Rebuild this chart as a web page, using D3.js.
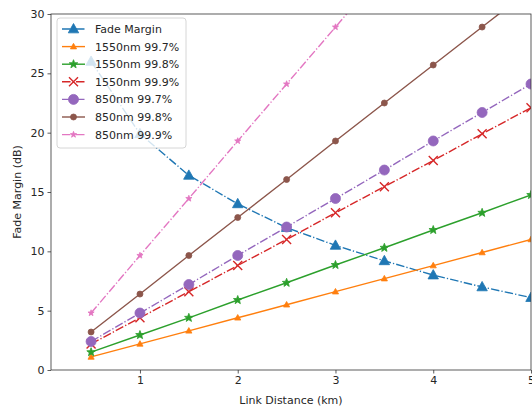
<!DOCTYPE html>
<html>
<head>
<meta charset="utf-8">
<style>
  body { margin: 0; background: #fff; }
  text { font-family: "DejaVu Sans", sans-serif; fill: #262626; }
</style>
</head>
<body>
<svg width="532" height="408"></svg>
<script src="https://d3js.org/d3.v7.min.js"></script>
<script>

// link distance in km
var distances = [0.5, 1, 1.5, 2, 2.5, 3, 3.5, 4, 4.5, 5]

// values (dB)
var fadeMargin = [26.0, 19.9, 16.4, 14.0, 12.0, 10.5, 9.2, 8.0, 7.0, 6.1]
var nm1550_997 = [1.1, 2.2, 3.3, 4.4, 5.5, 6.6, 7.7, 8.8, 9.9, 11.0]
var nm1550_998 = [1.5, 2.95, 4.4, 5.9, 7.35, 8.85, 10.3, 11.8, 13.25, 14.75]
var nm1550_999 = [2.2, 4.4, 6.6, 8.8, 11.0, 13.25, 15.45, 17.65, 19.9, 22.1]
var nm850_997 = [2.4, 4.8, 7.2, 9.65, 12.05, 14.45, 16.85, 19.3, 21.7, 24.1]
var nm850_998 = [3.2, 6.4, 9.65, 12.85, 16.05, 19.3, 22.5, 25.7, 28.9, 32.1]
var nm850_999 = [4.8, 9.65, 14.45, 19.3, 24.1, 28.9, 33.75, 38.6, 43.4, 48.2]

var xTicks = [1, 2, 3, 4, 5]
var yTicks = [0, 5, 10, 15, 20, 25, 30]

var series = [
  { name: 'Fade Margin', values: fadeMargin, color: '#1f77b4', dash: true, marker: 'triangle', size: 11 },
  { name: '1550nm 99.7%', values: nm1550_997, color: '#ff7f0e', dash: false, marker: 'triangle', size: 6.5 },
  { name: '1550nm 99.8%', values: nm1550_998, color: '#2ca02c', dash: false, marker: 'star', size: 9 },
  { name: '1550nm 99.9%', values: nm1550_999, color: '#d62728', dash: true, marker: 'x', size: 9 },
  { name: '850nm 99.7%', values: nm850_997, color: '#9467bd', dash: true, marker: 'circle', size: 10 },
  { name: '850nm 99.8%', values: nm850_998, color: '#8c564b', dash: false, marker: 'circle', size: 6 },
  { name: '850nm 99.9%', values: nm850_999, color: '#e377c2', dash: true, marker: 'star', size: 6.5 }
]

var margin = { left: 51, right: 1, top: 14, bottom: 38 }
var width = 532, height = 408

var svg = d3.select('svg')

var x = d3.scaleLinear().domain([0.09, 5.0]).range([margin.left, width - margin.right])
var y = d3.scaleLinear().domain([0, 30]).range([height - margin.bottom, margin.top])

svg.append('defs').append('clipPath').attr('id', 'plot')
  .append('rect')
  .attr('x', margin.left).attr('y', margin.top)
  .attr('width', width - margin.left - margin.right)
  .attr('height', height - margin.top - margin.bottom)

// marker shapes
function markerPath(type, s) {
  var r = s / 2
  if (type === 'triangle') {
    return 'M0,' + (-r) + 'L' + (r * 0.95) + ',' + (r * 0.7) + 'L' + (-r * 0.95) + ',' + (r * 0.7) + 'Z'
  }
  if (type === 'x') {
    return 'M' + (-r) + ',' + (-r) + 'L' + r + ',' + r + 'M' + (-r) + ',' + r + 'L' + r + ',' + (-r)
  }
  if (type === 'star') {
    var pts = []
    for (var i = 0; i < 10; i++) {
      var a = -Math.PI / 2 + i * Math.PI / 5
      var rr = i % 2 === 0 ? r : r * 0.42
      pts.push([rr * Math.cos(a), rr * Math.sin(a)])
    }
    return 'M' + pts.join('L') + 'Z'
  }
  return d3.symbol().type(d3.symbolCircle).size(Math.PI * r * r)()
}

function drawMarker(g, s, cx, cy) {
  var p = g.append('path')
    .attr('d', markerPath(s.marker, s.size))
    .attr('transform', 'translate(' + cx + ',' + cy + ')')
  if (s.marker === 'x') {
    p.attr('fill', 'none').attr('stroke', s.color).attr('stroke-width', 1.4)
  } else {
    p.attr('fill', s.color).attr('stroke', s.color).attr('stroke-width', 0.8)
  }
}

var dashPattern = '8.5,2.1,1.3,2.1'

var line = d3.line()
  .x(function (d, i) { return x(distances[i]) })
  .y(function (d) { return y(d) })

var plot = svg.append('g').attr('clip-path', 'url(#plot)')

series.forEach(function (s) {
  plot.append('path')
    .attr('d', line(s.values))
    .attr('fill', 'none')
    .attr('stroke', s.color)
    .attr('stroke-width', 1.4)
    .attr('stroke-dasharray', s.dash ? dashPattern : null)
  var mg = plot.append('g')
  s.values.forEach(function (v, i) {
    drawMarker(mg, s, x(distances[i]), y(v))
  })
})

// axes
var xAxis = svg.append('g')
  .attr('transform', 'translate(0,' + (height - margin.bottom) + ')')
  .call(d3.axisBottom(x).tickValues(xTicks).tickFormat(d3.format('d')).tickSizeOuter(0).tickSize(3.5).tickPadding(3))
var yAxis = svg.append('g')
  .attr('transform', 'translate(' + margin.left + ',0)')
  .call(d3.axisLeft(y).tickValues(yTicks).tickFormat(d3.format('d')).tickSizeOuter(0).tickSize(3.5).tickPadding(3))

;[xAxis, yAxis].forEach(function (a) {
  a.select('.domain').remove()
  a.selectAll('.tick line').attr('stroke', '#333').attr('stroke-width', 0.8)
  a.selectAll('.tick text').attr('font-size', 11).attr('fill', '#262626')
    .style('font-family', '"DejaVu Sans", sans-serif')
})

// spines
svg.append('rect')
  .attr('x', margin.left).attr('y', margin.top)
  .attr('width', width - margin.left - margin.right)
  .attr('height', height - margin.top - margin.bottom)
  .attr('fill', 'none').attr('stroke', '#333').attr('stroke-width', 0.8)

svg.append('text')
  .attr('x', (margin.left + width - margin.right) / 2)
  .attr('y', 404)
  .attr('text-anchor', 'middle')
  .attr('font-size', 11)
  .text('Link Distance (km)')

svg.append('text')
  .attr('transform', 'translate(21,' + ((margin.top + height - margin.bottom) / 2) + ') rotate(-90)')
  .attr('text-anchor', 'middle')
  .attr('font-size', 11)
  .text('Fade Margin (dB)')

// legend
var legend = svg.append('g').attr('transform', 'translate(57,18)')
legend.append('rect')
  .attr('width', 129).attr('height', 130)
  .attr('rx', 3)
  .attr('fill', 'white').attr('fill-opacity', 0.8)
  .attr('stroke', '#ccc').attr('stroke-width', 0.8)

series.forEach(function (s, i) {
  var row = legend.append('g').attr('transform', 'translate(0,' + (11 + i * 17.6) + ')')
  row.append('line')
    .attr('x1', 5).attr('x2', 28)
    .attr('stroke', s.color).attr('stroke-width', 1.4)
    .attr('stroke-dasharray', s.dash ? dashPattern : null)
  drawMarker(row, s, 16.5, 0)
  row.append('text')
    .attr('x', 38).attr('y', 4)
    .attr('font-size', 11)
    .text(s.name)
})

</script>
</body>
</html>
